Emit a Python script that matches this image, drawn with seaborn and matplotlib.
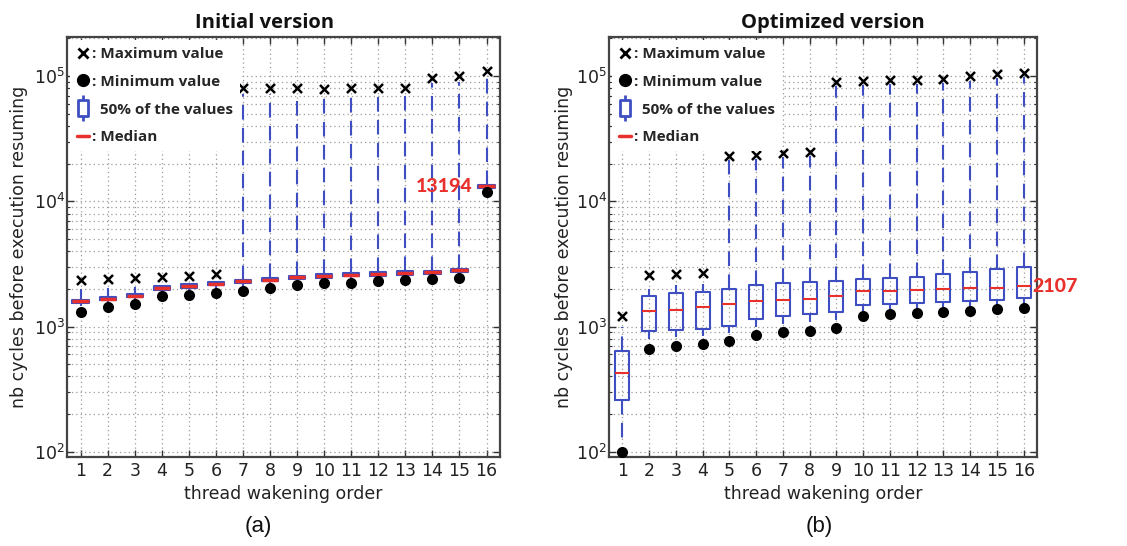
import numpy as np
import pandas as pd
import matplotlib
matplotlib.use("Agg")
import matplotlib.pyplot as plt
import seaborn as sns
from matplotlib.lines import Line2D
from matplotlib.path import Path
from matplotlib.font_manager import FontProperties

# ---------------- data ----------------
order_labels = [str(i) for i in range(1, 17)]

# Initial version
init_q1 = [1545, 1625, 1717, 1979, 2052, 2142, 2237, 2305, 2409, 2467, 2528, 2559, 2606, 2640, 2738, 12800]
init_med = [1592, 1675, 1770, 2040, 2115, 2208, 2306, 2376, 2484, 2543, 2606, 2638, 2687, 2722, 2823, 13194]
init_q3 = [1640, 1725, 1823, 2101, 2178, 2274, 2375, 2447, 2559, 2619, 2684, 2717, 2768, 2804, 2908, 13590]
init_whis_lo = [1470, 1550, 1640, 1900, 1960, 2040, 2110, 2180, 2290, 2350, 2400, 2440, 2480, 2510, 2600, 12400]
init_whis_hi = [1980, 2030, 2080, 2150, 2200, 2260, 72000, 72000, 72000, 72000, 72000, 72000, 72000, 88000, 90000, 99000]
init_min = [1302, 1436, 1528, 1759, 1803, 1858, 1917, 2040, 2155, 2221, 2235, 2319, 2362, 2392, 2436, 11870]
init_max = [2377, 2405, 2436, 2500, 2560, 2623, 79800, 79800, 79800, 79000, 79800, 79800, 79800, 97000, 99400, 110000]

# Optimized version
opt_q1 = [258, 916, 938, 961, 1016, 1148, 1213, 1265, 1312, 1483, 1520, 1538, 1567, 1606, 1636, 1688]
opt_med = [428, 1321, 1353, 1439, 1503, 1588, 1636, 1667, 1761, 1918, 1941, 1977, 2000, 2027, 2052, 2107]
opt_q3 = [638, 1741, 1849, 1883, 2003, 2153, 2235, 2275, 2333, 2404, 2449, 2512, 2636, 2752, 2874, 2999]
opt_whis_lo = [114, 791, 820, 840, 883, 986, 1047, 1092, 1127, 1330, 1370, 1403, 1430, 1460, 1490, 1530]
opt_whis_hi = [996, 2015, 2153, 2193, 21400, 22000, 22600, 23000, 83000, 85000, 86000, 87000, 89000, 92000, 96000, 98000]
opt_min = [100, 662, 699, 725, 766, 851, 899, 926, 973, 1205, 1259, 1288, 1305, 1337, 1371, 1396]
opt_max = [1219, 2586, 2620, 2685, 22960, 23550, 24270, 24720, 89300, 91600, 92700, 93700, 95500, 99600, 104000, 106000]

legend_labels = [": Maximum value", ": Minimum value", "  50% of the values", ": Median"]

BLUE = "#3f4fc2"
RED = "#e8312c"

sns.set_theme(style="white")
plt.rcParams["font.family"] = ["DejaVu Sans"]

fig = plt.figure(figsize=(11.27, 5.46), dpi=100)
axL = fig.add_axes([0.0595, 0.163, 0.3842, 0.769])
axR = fig.add_axes([0.5404, 0.163, 0.3798, 0.769])

box_path = Path(
    [(-0.4, -0.62), (0.4, -0.62), (0.4, 0.62), (-0.4, 0.62), (-0.4, -0.62),
     (0, 0.62), (0, 1.0), (0, -0.62), (0, -1.0)],
    [Path.MOVETO, Path.LINETO, Path.LINETO, Path.LINETO, Path.CLOSEPOLY,
     Path.MOVETO, Path.LINETO, Path.MOVETO, Path.LINETO])

leg_font = FontProperties(family=["Open Sans", "DejaVu Sans"], weight="bold", size=11)
title_font = FontProperties(family=["Open Sans", "DejaVu Sans"], weight="bold", size=14.5)
num_font = FontProperties(family=["Lato", "DejaVu Sans"], weight=900, size=14)


def draw(ax, q1, med, q3, wlo, whi, mn, mx, width, med_lw, title, title_x, ylabelpad):
    vals = np.column_stack([wlo, q1, med, q3, whi]).ravel()
    df = pd.DataFrame({"order": np.repeat(order_labels, 5), "cycles": vals})
    sns.boxplot(data=df, x="order", y="cycles", order=order_labels, whis=np.inf,
                width=width, fill=False, color=BLUE, linewidth=1.5,
                showcaps=False, showfliers=False, log_scale=True,
                boxprops=dict(color=BLUE),
                medianprops=dict(color=RED, linewidth=med_lw),
                whiskerprops=dict(color=BLUE, linestyle=(0, (7, 4))),
                ax=ax, zorder=3)
    sns.stripplot(x=order_labels, y=mx, order=order_labels, jitter=False,
                  marker="x", color="black", size=6.5, linewidth=1.8, ax=ax, zorder=4)
    sns.stripplot(x=order_labels, y=mn, order=order_labels, jitter=False,
                  marker="o", color="black", size=8, linewidth=0, ax=ax, zorder=4)
    ax.set_ylim(91, 2.05e5)
    ax.set_xlim(-0.5, 15.5)
    ax.set_axisbelow(True)
    ax.yaxis.grid(True, which="both", linestyle=(0, (1, 2.5)), color="#9a9a9a", linewidth=0.9)
    ax.xaxis.grid(True, which="major", linestyle=(0, (1, 2.5)), color="#9a9a9a", linewidth=0.9)
    ax.tick_params(which="both", direction="in", top=True, right=True, left=True, bottom=True,
                   colors="#333333", labelcolor="#222222", labelsize=12.5)
    ax.tick_params(which="major", length=5, width=1)
    ax.tick_params(which="minor", length=2.5, width=0.8)
    ax.tick_params(axis="y", which="both", pad=1.5)
    for s in ax.spines.values():
        s.set_color("#444444")
        s.set_linewidth(1.6)
    ax.set_xlabel("thread wakening order", fontsize=12.5, color="#222222")
    ax.set_ylabel("nb cycles before execution resuming", fontsize=12.5, color="#222222",
                  labelpad=ylabelpad)
    handles = [
        Line2D([], [], marker="x", color="black", ls="none", ms=7, mew=2),
        Line2D([], [], marker="o", color="black", ls="none", ms=8.5),
        Line2D([], [], marker=box_path, ls="none", ms=19, mfc="white", mec=BLUE, mew=2),
        Line2D([], [], color=RED, lw=2.5),
    ]
    ax.legend(handles, legend_labels, loc="upper left", prop=leg_font, frameon=True,
              facecolor="white", edgecolor="none", framealpha=1, handlelength=0.8,
              handletextpad=0.2, labelspacing=0.9, borderaxespad=0.2, borderpad=0.45)
    ax.text(title_x, 1.021, title, transform=ax.transAxes, ha="center", va="baseline",
            fontproperties=title_font, color="#111111")


draw(axL, init_q1, init_med, init_q3, init_whis_lo, init_whis_hi, init_min, init_max,
     0.6, 2.5, "Initial version", 0.457, 4)
draw(axR, opt_q1, opt_med, opt_q3, opt_whis_lo, opt_whis_hi, opt_min, opt_max,
     0.52, 1.5, "Optimized version", 0.523, 2)

axL.annotate(f"{init_med[-1]}", xy=(len(order_labels) - 1, init_med[-1]), xytext=(-10, 0),
             textcoords="offset points", ha="right", va="center", color=RED,
             fontproperties=num_font, zorder=5)
axR.annotate(f"{opt_med[-1]}", xy=(len(order_labels) - 1, opt_med[-1]), xytext=(6, 0),
             textcoords="offset points", ha="left", va="center", color=RED,
             fontproperties=num_font, zorder=5, annotation_clip=False)

fig.text(0.229, 0.035, "(a)", ha="center", va="center", fontsize=16,
         family=["Liberation Sans", "DejaVu Sans"], color="#111111")
fig.text(0.727, 0.035, "(b)", ha="center", va="center", fontsize=16,
         family=["Liberation Sans", "DejaVu Sans"], color="#111111")

fig.savefig("out.png", dpi=100, facecolor="white")
